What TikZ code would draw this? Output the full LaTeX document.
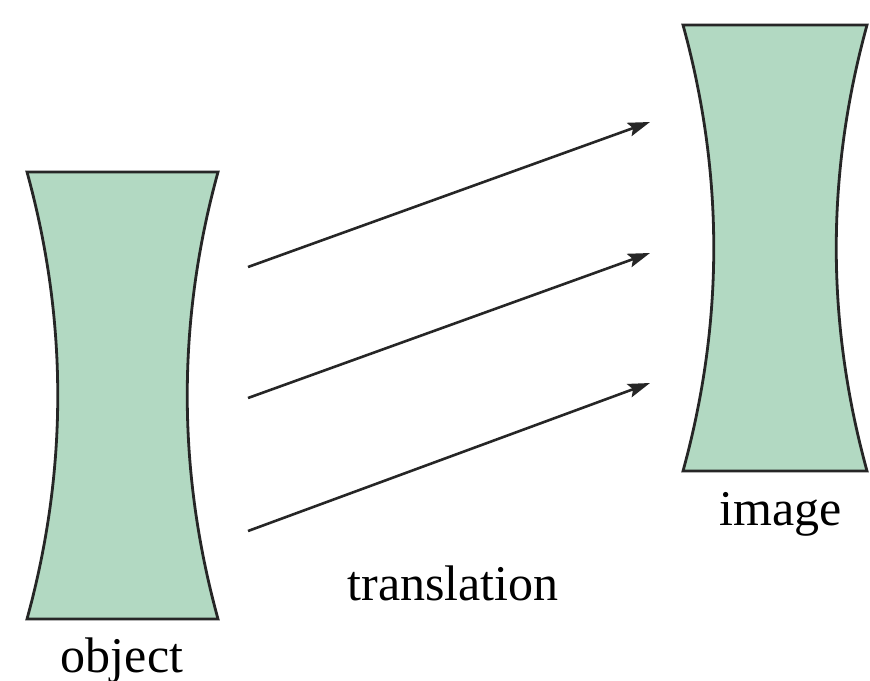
\documentclass[tikz,border=0pt]{standalone}
\usepackage{fontspec}
\setmainfont{Liberation Serif}
\usetikzlibrary{arrows.meta}
\definecolor{lensgreen}{RGB}{178,217,194}
\tikzset{
  lens/.style={draw=black!85, fill=lensgreen, line width=1.4pt, line join=miter},
  move/.style={draw=black!85, line width=1.3pt, -{Stealth[length=11pt,width=7pt,inset=2pt]}},
  caption/.style={font=\fontsize{25}{30}\selectfont, anchor=base, inner sep=0pt}
}
\begin{document}
\begin{tikzpicture}[x=0.5pt,y=-0.5pt]
\useasboundingbox (0,0) rectangle (870,680);
% object
\draw[lens] (27,172) -- (218,172)
  .. controls (177,321) and (177,470) .. (218,619)
  -- (27,619)
  .. controls (68,470) and (68,321) .. (27,172) -- cycle;
% image
\draw[lens] (683,25) -- (867,25)
  .. controls (826,174) and (826,322) .. (867,471)
  -- (683,471)
  .. controls (724,322) and (724,174) .. (683,25) -- cycle;
% arrow ends
\coordinate (s1) at (248,267);
\coordinate (s2) at (248,398);
\coordinate (s3) at (248,531);
\coordinate (t1) at (650,122);
\coordinate (t2) at (650,253);
\coordinate (t3) at (650,383);
\draw[move] (s1) -- (t1);
\draw[move] (s2) -- (t2);
\draw[move] (s3) -- (t3);
\node[caption] (objlabel) at (122,672) {object};
\node[caption] (imglabel) at (781,525) {image};
\node[caption] (translabel) at (453,600) {translation};
\end{tikzpicture}
\end{document}
